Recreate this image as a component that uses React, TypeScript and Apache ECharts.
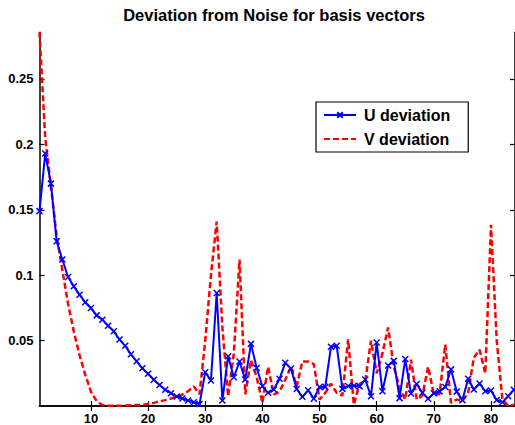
import React, { useEffect, useRef } from "react";
import * as echarts from "echarts";

const TITLE = "Deviation from Noise for basis vectors";
const SERIES_NAMES = ["U deviation", "V deviation"];
const X_TICKS = [10, 20, 30, 40, 50, 60, 70, 80];
const Y_TICKS = [0.05, 0.1, 0.15, 0.2, 0.25];

const U_DEV = [
  0.149, 0.193, 0.170, 0.126, 0.112, 0.0986, 0.0915, 0.0851, 0.0793, 0.0749,
  0.0693, 0.066, 0.0614, 0.0571, 0.0508, 0.046, 0.0395, 0.0342, 0.0288, 0.0247,
  0.0201, 0.016, 0.0124, 0.0098, 0.0073, 0.0057, 0.0042, 0.0029, 0.0015, 0.0258,
  0.0195, 0.0864, 0.0042, 0.038, 0.022, 0.034, 0.0202, 0.0475, 0.0291, 0.0151,
  0.0101, 0.0126, 0.0208, 0.033, 0.0286, 0.013, 0.007, 0.012, 0.0056, 0.0145,
  0.0146, 0.0453, 0.046, 0.0131, 0.0153, 0.0155, 0.015, 0.0202, 0.0075, 0.0485,
  0.0113, 0.0309, 0.0345, 0.006, 0.036, 0.0095, 0.0168, 0.0101, 0.0055, 0.0098,
  0.0113, 0.0145, 0.028, 0.011, 0.0045, 0.0209, 0.0126, 0.0172, 0.0113, 0.0118,
  0.0046, 0.0028, 0.0075, 0.0124,
];

const V_DEV = [
  0.2857, 0.205, 0.168, 0.13, 0.104, 0.078, 0.057, 0.039, 0.024, 0.011,
  0.0037, 0.0008, 0.0001, 0.0001, 0.0002, 0.0003, 0.0005, 0.0007, 0.0009, 0.0015,
  0.0024, 0.0035, 0.0045, 0.0057, 0.007, 0.0088, 0.0113, 0.015, 0.009, 0.05,
  0.1, 0.141, 0.06, 0.0075, 0.04, 0.112, 0.009, 0.035, 0.022, 0.0024,
  0.03, 0.0088, 0.011, 0.02, 0.03, 0.015, 0.034, 0.034, 0.032, 0.005,
  0.01, 0.017, 0.01, 0.008, 0.051, 0.001, 0.017, 0.019, 0.05, 0.025,
  0.04, 0.06, 0.03, 0.014, 0.005, 0.0355, 0.005, 0.008, 0.03, 0.009,
  0.009, 0.047, 0.0024, 0.005, 0.004, 0.01, 0.037, 0.043, 0.025, 0.1386,
  0.05, 0.005, 0.0002, 0.001,
];

const FONT = "'Liberation Sans', Arial, Helvetica, sans-serif";

export default function App() {
  const ref = useRef<HTMLDivElement>(null);

  useEffect(() => {
    if (!ref.current) return;
    const chart = echarts.init(ref.current, null, { renderer: "svg" });

    const uData = U_DEV.map((v, i) => [i + 1, v]);
    const vData = V_DEV.map((v, i) => [i + 1, v]);

    const axisLine = { show: true, lineStyle: { color: "#000", width: 1.5 } };
    const tick = {
      show: true,
      inside: true,
      length: 5,
      lineStyle: { color: "#000", width: 1.2 },
    };
    const labelStyle = {
      color: "#000",
      fontFamily: FONT,
      fontWeight: "bold" as const,
      fontSize: 13,
    };

    chart.setOption({
      animation: false,
      backgroundColor: "#fff",
      title: {
        text: TITLE,
        left: 274,
        top: 6,
        textAlign: "center",
        padding: 0,
        textStyle: {
          color: "#000",
          fontFamily: FONT,
          fontWeight: "bold",
          fontSize: 16.5,
        },
      },
      legend: {
        data: [
          { name: SERIES_NAMES[0] },
          {
            name: SERIES_NAMES[1],
            itemStyle: { opacity: 0, color: "rgba(0,0,0,0)", borderWidth: 0 },
          },
        ],
        orient: "vertical",
        left: 316,
        top: 102,
        itemWidth: 32,
        itemHeight: 7,
        itemGap: 8,
        padding: [5, 18, 5, 7],
        borderColor: "#000",
        borderWidth: 1.2,
        backgroundColor: "#fff",
        textStyle: {
          color: "#000",
          fontFamily: FONT,
          fontWeight: "bold",
          fontSize: 16,
          lineHeight: 16,
          padding: [0, 0, 0, 3],
        },
      },
      grid: { left: 39.5, right: -1, top: 32.3, bottom: 18.5, containLabel: false },
      xAxis: [
        {
          type: "value",
          min: 1,
          max: 84.2,
          position: "bottom",
          axisLine,
          splitLine: { show: false },
          axisTick: { ...tick, customValues: X_TICKS },
          axisLabel: {
            ...labelStyle,
            margin: 6,
            lineHeight: 13,
            customValues: X_TICKS,
            formatter: (v: number) => String(v),
          },
        },
        {
          type: "value",
          min: 1,
          max: 84.2,
          position: "top",
          axisLine,
          splitLine: { show: false },
          axisTick: { ...tick, customValues: X_TICKS },
          axisLabel: { show: false },
        },
      ],
      yAxis: [
        {
          type: "value",
          min: 0,
          max: 0.2857,
          position: "left",
          axisLine,
          splitLine: { show: false },
          axisTick: { ...tick, customValues: Y_TICKS },
          axisLabel: {
            ...labelStyle,
            margin: 6,
            customValues: Y_TICKS,
            formatter: (v: number) => String(v),
          },
        },
        {
          type: "value",
          min: 0,
          max: 0.2857,
          position: "right",
          axisLine,
          splitLine: { show: false },
          axisTick: { ...tick, customValues: Y_TICKS },
          axisLabel: { show: false },
        },
      ],
      series: [
        {
          name: SERIES_NAMES[0],
          type: "line",
          xAxisIndex: 0,
          yAxisIndex: 0,
          data: uData,
          symbol: "path://M0,0L10,10M10,0L0,10",
          symbolSize: 6,
          showSymbol: true,
          lineStyle: { color: "#0000ff", width: 2 },
          itemStyle: { color: "#0000ff", borderColor: "#0000ff", borderWidth: 1.5 },
          z: 3,
        },
        {
          name: SERIES_NAMES[1],
          type: "line",
          xAxisIndex: 0,
          yAxisIndex: 0,
          data: vData,
          symbol: "none",
          showSymbol: false,
          lineStyle: { color: "#ff0000", width: 2.5, type: [6, 3] },
          itemStyle: { color: "#ff0000" },
          z: 2,
        },
      ],
    });

    return () => chart.dispose();
  }, []);

  return (
    <div
      ref={ref}
      style={{ position: "absolute", left: 0, top: 0, width: 515, height: 425 }}
    />
  );
}
